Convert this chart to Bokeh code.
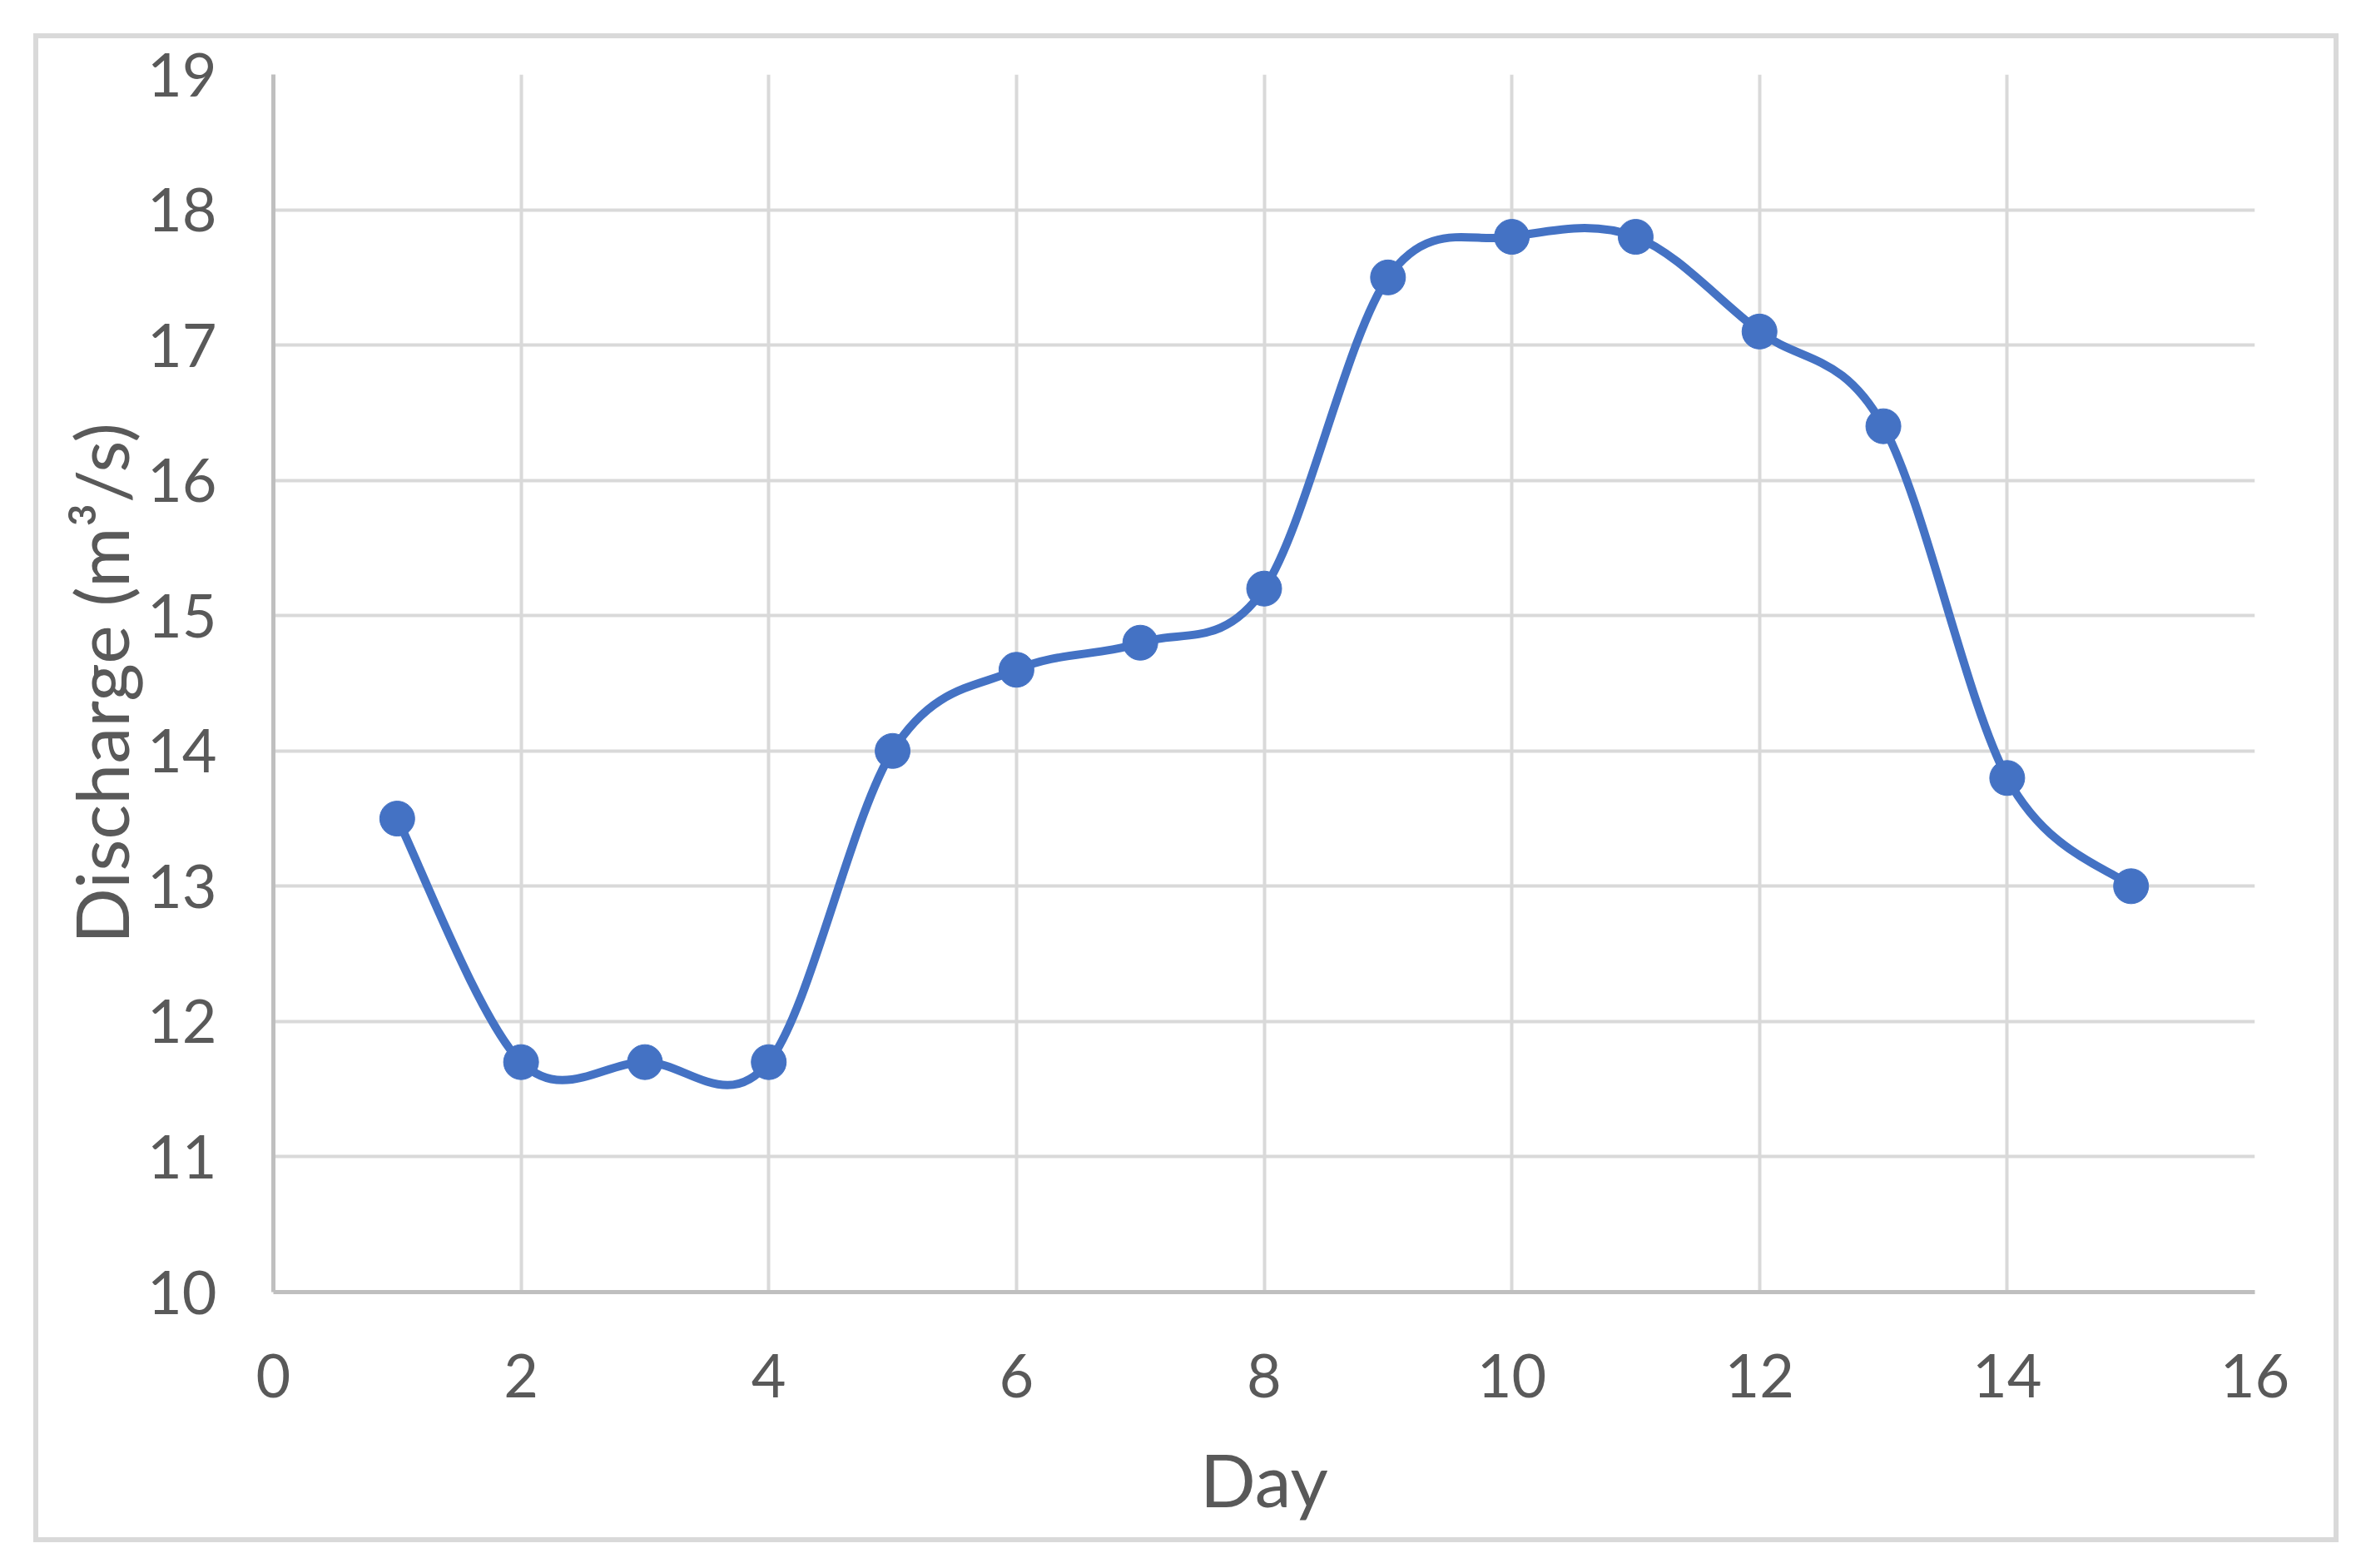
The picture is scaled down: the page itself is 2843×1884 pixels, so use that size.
from bokeh.plotting import figure
from bokeh.models import FixedTicker, ColumnDataSource
from bokeh.embed import file_html
from bokeh.resources import INLINE

days = [1, 2, 3, 4, 5, 6, 7, 8, 9, 10, 11, 12, 13, 14, 15]
discharge = [13.5, 11.7, 11.7, 11.7, 14.0, 14.6, 14.8, 15.2, 17.5, 17.8, 17.8, 17.1, 16.4, 13.8, 13.0]
x_ticks = [0, 2, 4, 6, 8, 10, 12, 14, 16]
y_ticks = [10, 11, 12, 13, 14, 15, 16, 17, 18, 19]

FONT = "Lato"
TXT = "#595959"
BLUE = "#4472C4"

p = figure(width=2770, height=1813, x_range=(0, 16), y_range=(10, 19),
           output_backend="svg", toolbar_location=None,
           min_border_left=282, min_border_right=107, min_border_top=43, min_border_bottom=307,
           styles={"border": "6px solid #d9d9d9", "margin-left": "40px", "margin-top": "40px"})
p.outline_line_color = None
p.background_fill_color = "white"

p.xgrid.ticker = FixedTicker(ticks=x_ticks)
p.ygrid.ticker = FixedTicker(ticks=y_ticks)
for g in (p.xgrid, p.ygrid):
    g.grid_line_color = "#d9d9d9"
    g.grid_line_width = 4

for ax, ticks in ((p.xaxis, x_ticks), (p.yaxis, y_ticks)):
    ax.ticker = FixedTicker(ticks=ticks)
    ax.axis_line_color = "#bfbfbf"
    ax.axis_line_width = 5
    ax.major_tick_line_color = None
    ax.minor_tick_line_color = None
    ax.major_label_text_font = FONT
    ax.major_label_text_font_size = "72px"
    ax.major_label_text_color = TXT
    ax.axis_label_text_font = FONT
    ax.axis_label_text_font_size = "88px"
    ax.axis_label_text_color = TXT
    ax.axis_label_text_font_style = "normal"

p.xaxis.axis_label = "Day"
p.yaxis.axis_label = "Discharge (m\u00b3/s)"
p.xaxis.major_label_standoff = 68
p.yaxis.major_label_standoff = 62
p.xaxis.axis_label_standoff = 42
p.yaxis.axis_label_standoff = 0

# smooth line (Excel-style Catmull-Rom Bezier from the data points)
n = len(days)
x0, y0, x1, y1, cx0, cy0, cx1, cy1 = [], [], [], [], [], [], [], []
for i in range(n - 1):
    pm = i - 1 if i > 0 else 0
    pp = i + 2 if i + 2 < n else n - 1
    x0.append(days[i]); y0.append(discharge[i])
    x1.append(days[i + 1]); y1.append(discharge[i + 1])
    cx0.append(days[i] + (days[i + 1] - days[pm]) / 6)
    cy0.append(discharge[i] + (discharge[i + 1] - discharge[pm]) / 6)
    cx1.append(days[i + 1] - (days[pp] - days[i]) / 6)
    cy1.append(discharge[i + 1] - (discharge[pp] - discharge[i]) / 6)
seg = ColumnDataSource(dict(x0=x0, y0=y0, x1=x1, y1=y1, cx0=cx0, cy0=cy0, cx1=cx1, cy1=cy1))
p.bezier(x0="x0", y0="y0", x1="x1", y1="y1", cx0="cx0", cy0="cy0", cx1="cx1", cy1="cy1",
         source=seg, line_color=BLUE, line_width=10, line_cap="round")

p.scatter(days, discharge, marker="circle", size=42, fill_color=BLUE, line_color=BLUE)

open("out.html", "w").write(file_html(p, INLINE))
